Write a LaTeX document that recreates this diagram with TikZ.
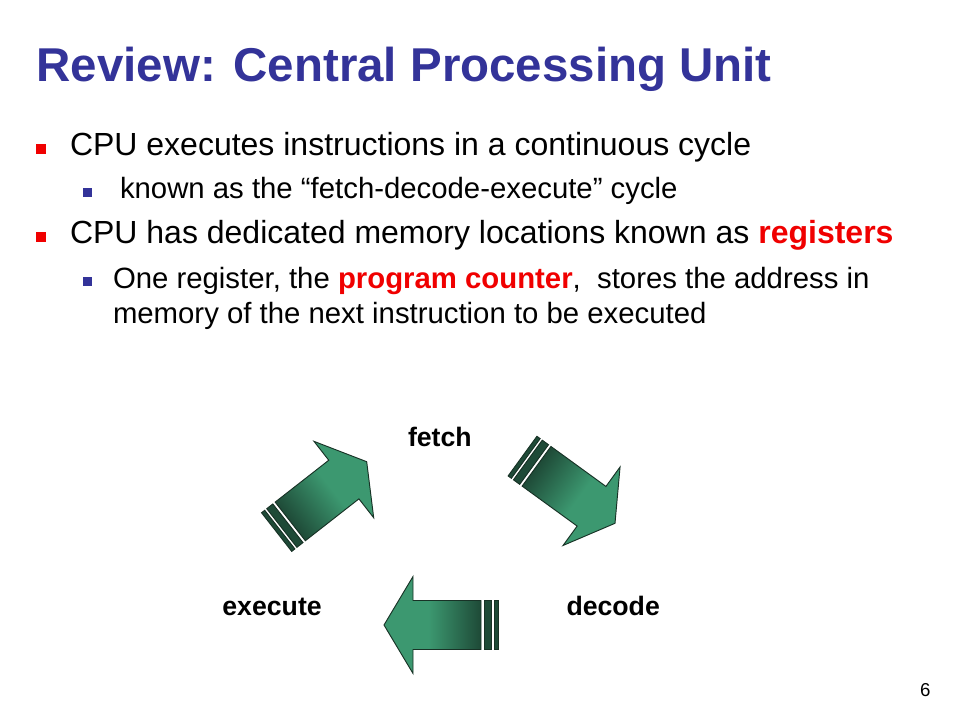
\documentclass[tikz,border=0pt]{standalone}
\usepackage{fontspec}
\setmainfont{Liberation Sans}
\definecolor{titleblue}{RGB}{51,51,153}
\definecolor{bulred}{RGB}{240,0,0}
\definecolor{gl}{RGB}{60,152,112}
\definecolor{gd}{RGB}{30,74,55}
\definecolor{gline}{RGB}{24,50,38}
\pgfdeclarehorizontalshading{arrowshade}{100bp}{color(0bp)=(gl); color(48bp)=(gl); color(75bp)=(gd); color(100bp)=(gd)}
\tikzset{
  txt/.style={anchor=base west, inner sep=0pt, outer sep=0pt, text=black},
  ttl/.style={txt, text=titleblue, font=\fontsize{35.6}{43}\selectfont\bfseries},
  lvlone/.style={txt, font=\fontsize{24}{29}\selectfont},
  lvltwo/.style={txt, font=\fontsize{22}{26}\selectfont},
  lbl/.style={txt, font=\fontsize{20}{24}\selectfont\bfseries},
  redsq/.style={fill=bulred, draw=none},
  bluesq/.style={fill=titleblue, draw=none},
  arrbody/.style={shading=arrowshade, draw=gline, line width=0.7pt, line join=miter},
  arrstripe/.style={fill=gd, draw=gline, line width=0.7pt}
}
\newcommand{\cyclearrow}{%
  \path[arrbody] (0,0) -- (29,-48.5) -- (29,-24.5) -- (97,-24.5) -- (97,24.5) -- (29,24.5) -- (29,48.5) -- cycle;
  \path[arrstripe] (100,-24.5) rectangle (107.7,24.5);
  \path[arrstripe] (110.3,-24.5) rectangle (114.3,24.5);
}
\begin{document}
\begin{tikzpicture}[x=0.75pt,y=-0.75pt]
\useasboundingbox[fill=white] (0,0) rectangle (960,720);

% title
\node[ttl] (title) at (36.7,81.7) {Review: Central Processing Unit};

% bullets
\path[redsq] (36,144) rectangle (46,154);
\node[lvlone] (l1) at (70,156) {CPU executes instructions in a continuous cycle};
\path[bluesq] (83.3,188.3) rectangle (92.3,197.5);
\node[lvltwo] (s1) at (120,199) {known as the “fetch-decode-execute” cycle};
\path[redsq] (36,232) rectangle (46,242);
\node[lvlone] (l2) at (70,244) {CPU has dedicated memory locations known as {\bfseries\color{bulred}registers}};
\path[bluesq] (83.3,277.5) rectangle (92.3,286.5);
\node[lvltwo] (s2) at (113,288.5) {One register, the {\bfseries\color{bulred}program counter},\ \ stores the address in};
\node[lvltwo] (s3) at (113,323.3) {memory of the next instruction to be executed};

% cycle labels
\node[lbl] (fetch) at (408,446.7) {fetch};
\node[lbl] (execute) at (222.4,615) {execute};
\node[lbl] (decode) at (566.5,615) {decode};

% arrows
\begin{scope}[transform canvas={shift={(366.7,461.7)},rotate=-142}]
  \cyclearrow
\end{scope}
\begin{scope}[transform canvas={shift={(615,523.3)},rotate=144}]
  \cyclearrow
\end{scope}
\begin{scope}[transform canvas={shift={(384,625)}}]
  \cyclearrow
\end{scope}

% page number
\node[txt, font=\fontsize{14}{17}\selectfont] (pnum) at (920,696) {6};
\end{tikzpicture}
\end{document}
